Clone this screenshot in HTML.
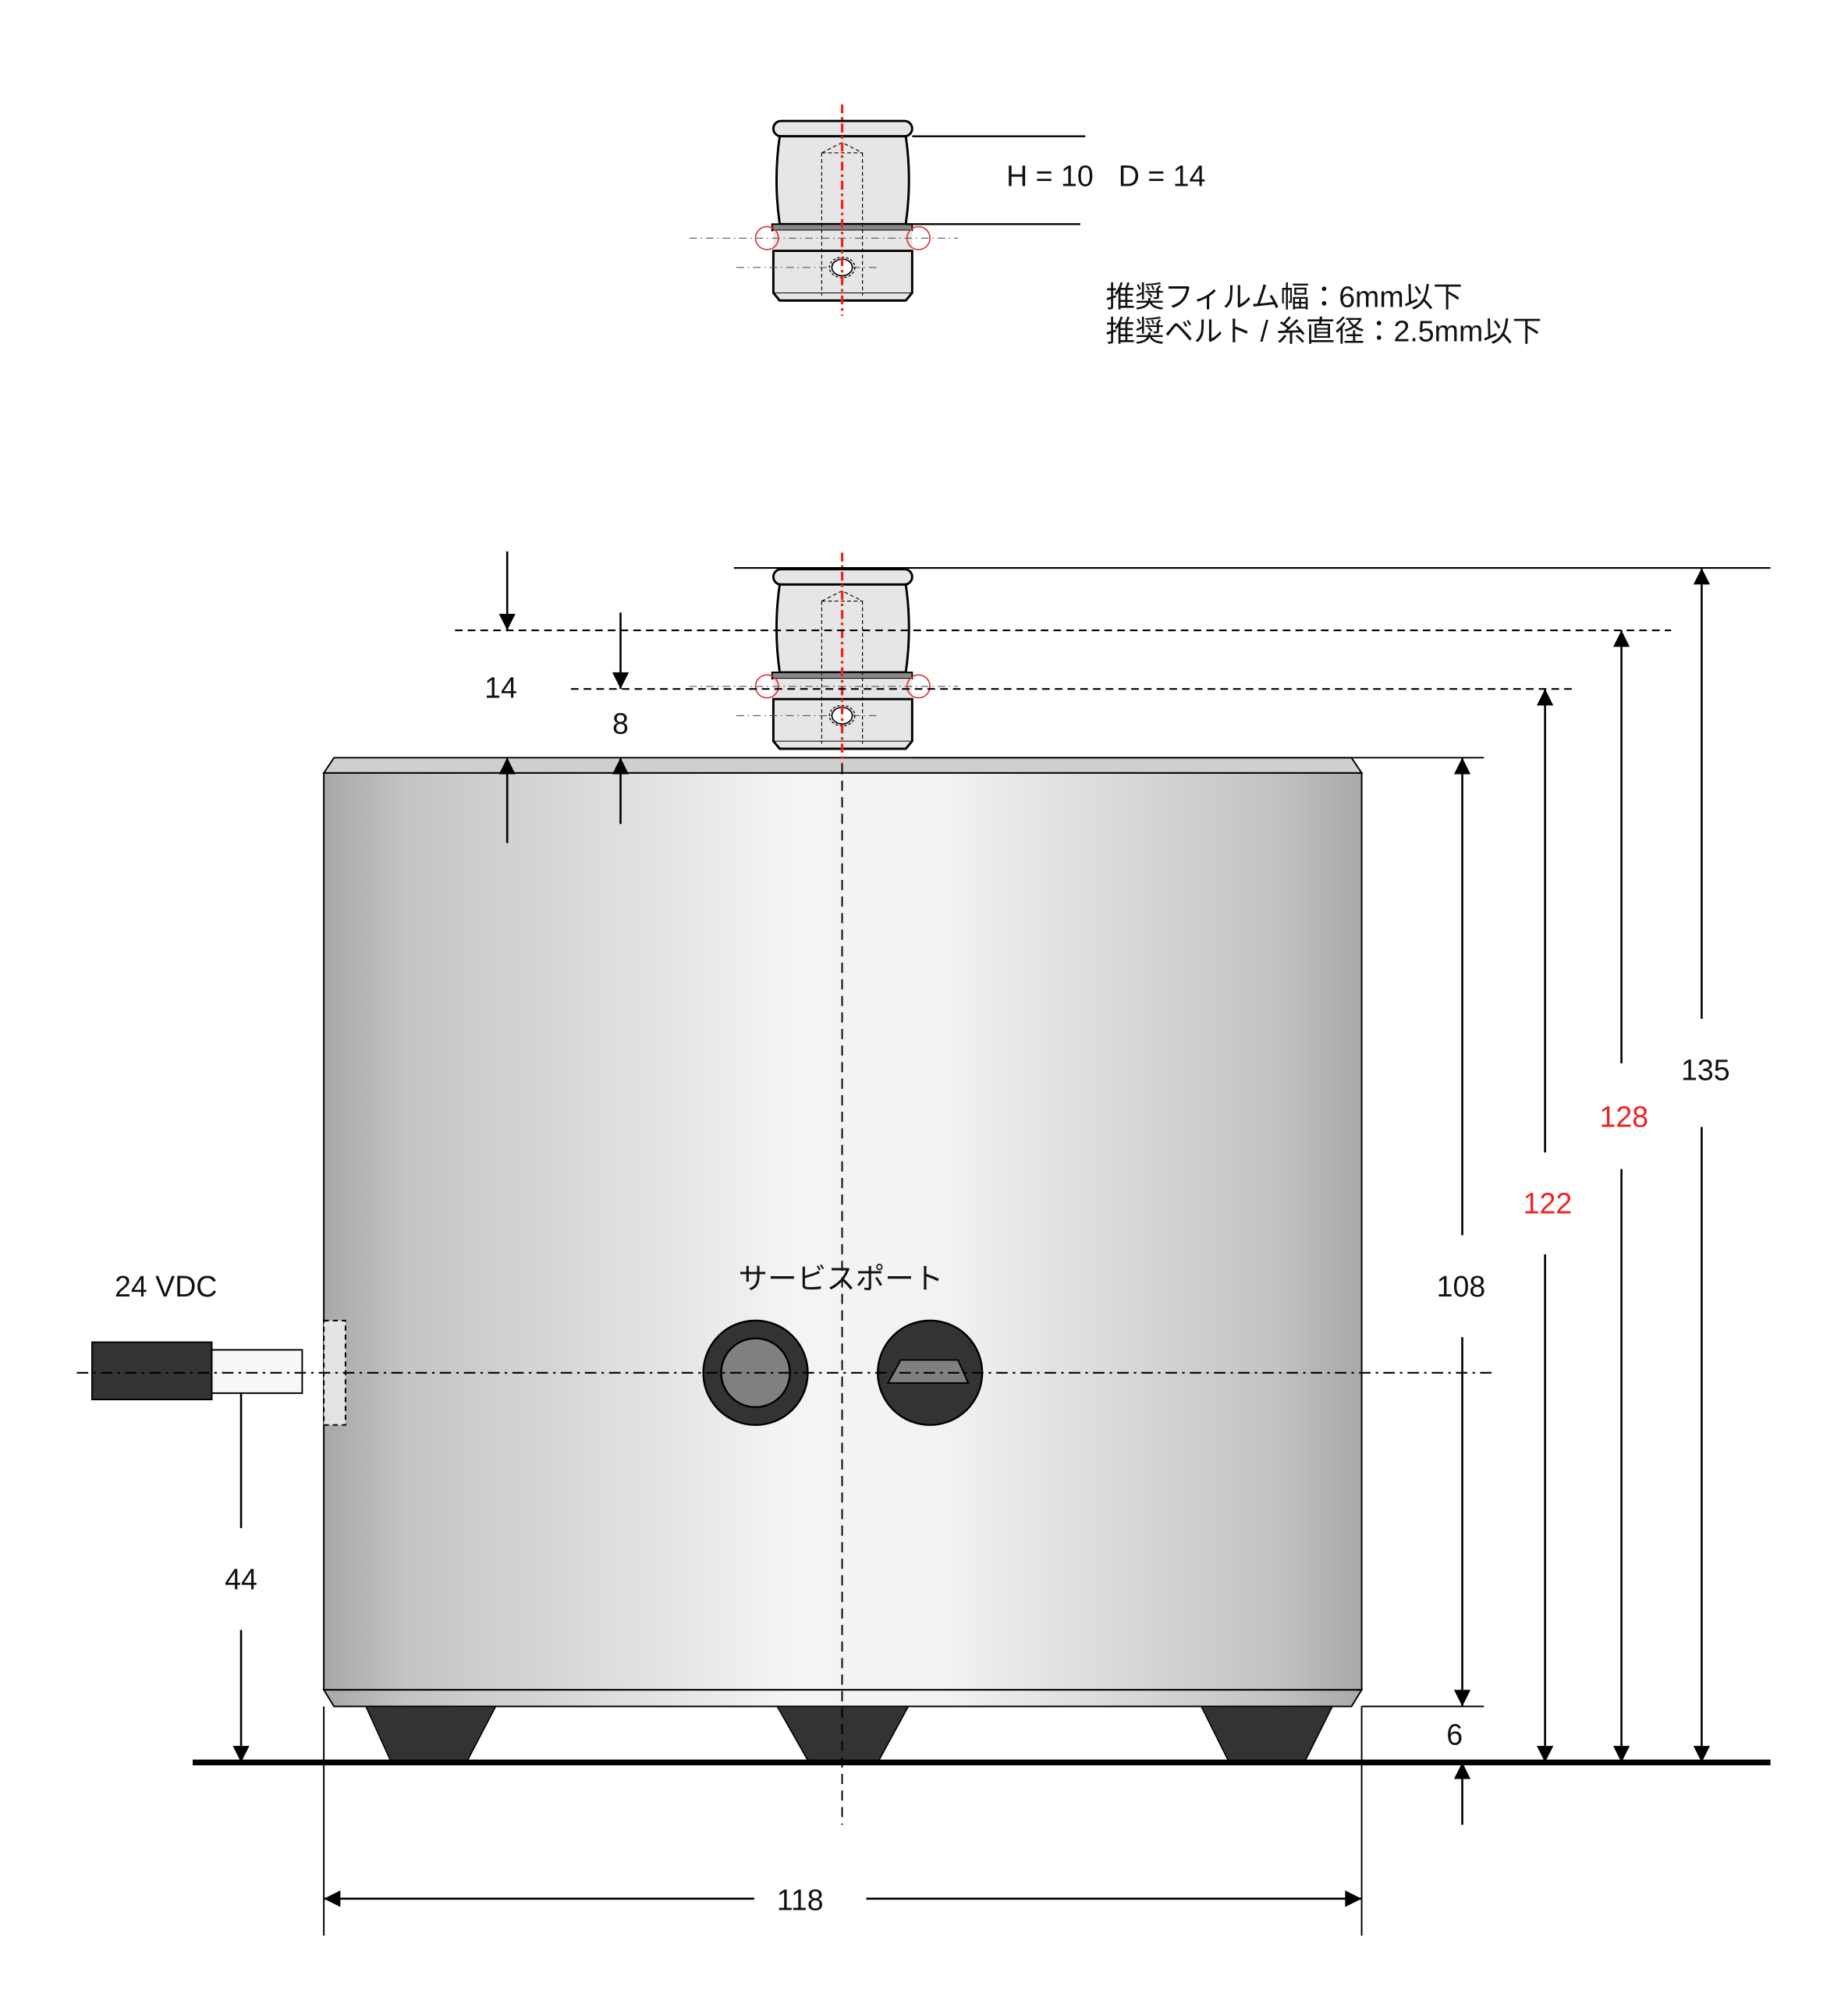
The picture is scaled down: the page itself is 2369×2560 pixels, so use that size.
<!DOCTYPE html>
<html><head><meta charset="utf-8"><style>html,body{margin:0;padding:0;background:#fff}svg{display:block}text{font-family:"Liberation Sans","Noto Sans CJK JP",sans-serif}</style></head>
<body>
<svg width="2369" height="2560" viewBox="0 0 1450.6 1568.2" xmlns="http://www.w3.org/2000/svg">
<defs>
<linearGradient id="g" x1="0" x2="1" y1="0" y2="0">
<stop offset="0" stop-color="#a8a8a8"/><stop offset="0.08" stop-color="#c4c4c4"/><stop offset="0.45" stop-color="#f4f4f4"/><stop offset="0.6" stop-color="#f2f2f2"/><stop offset="0.92" stop-color="#c2c2c2"/><stop offset="1" stop-color="#a8a8a8"/>
</linearGradient>
<marker id="a" viewBox="0 0 10 10" refX="10" refY="5" markerWidth="14" markerHeight="13" orient="auto-start-reverse" markerUnits="userSpaceOnUse"><path d="M0,0L10,5L0,10z" fill="#000"/></marker>
<g id="cap">
<rect x="607" y="95" width="109" height="12" rx="6" fill="#e6e6e6" stroke="#000" stroke-width="1.8"/>
<path d="M612,107 L711,107 Q716,141 711,176 L612,176 Q607,141 612,107Z" fill="#e6e6e6" stroke="#000" stroke-width="1.8"/>
<rect x="606" y="176" width="110" height="5" fill="#888" stroke="#000" stroke-width="1.2"/>
<rect x="607" y="181" width="109" height="16" fill="#e6e6e6"/>
<path d="M607,197 L716,197 L716,230 L711,236 L612,236 L607,230Z" fill="#e6e6e6" stroke="#000" stroke-width="1.8"/>
<line x1="607" y1="230" x2="716" y2="230" stroke="#000" stroke-width="0.6"/>
<path d="M645,120 L645,232 M677,120 L677,232 M645,120 L677,120 M645,120 L661,112 L677,120" fill="none" stroke="#000" stroke-width="0.7" stroke-dasharray="3,2"/>
<line x1="541" y1="187" x2="752" y2="187" stroke="#555" stroke-width="0.7" stroke-dasharray="6,3,1,3"/>
<line x1="578" y1="210" x2="688" y2="210" stroke="#555" stroke-width="0.7" stroke-dasharray="6,3,1,3"/>
<circle cx="602" cy="187" r="9" fill="none" stroke="#d33" stroke-width="1"/>
<circle cx="721" cy="187" r="9" fill="none" stroke="#d33" stroke-width="1"/>
<ellipse cx="661" cy="210" rx="10" ry="8" fill="none" stroke="#000" stroke-width="0.8" stroke-dasharray="2,1.5"/>
<ellipse cx="661" cy="210" rx="8" ry="6.5" fill="#fff" stroke="#000" stroke-width="1"/>
</g>
</defs>
<use href="#cap"/>
<line x1="661" y1="82" x2="661" y2="248" stroke="#e22" stroke-width="2" stroke-dasharray="7,3,2,3"/>
<line x1="716" y1="107" x2="852" y2="107" stroke="#000" stroke-width="1.5"/>
<line x1="711" y1="176" x2="848" y2="176" stroke="#000" stroke-width="1.5"/>
<text x="790" y="146" font-size="23" fill="#111">H = 10</text>
<text x="878" y="146" font-size="23" fill="#111">D = 14</text>
<text x="868" y="241" font-size="23" fill="#111">推奨フィルム幅：6mm以下</text>
<text x="868" y="268" font-size="23" fill="#111">推奨ベルト / 糸直径：2.5mm以下</text>

<path d="M254,607 L262,595 L1061,595 L1069,607Z" fill="#cfcfcf" stroke="#000" stroke-width="1.2"/>
<rect x="254" y="607" width="815" height="720" fill="url(#g)" stroke="#000" stroke-width="1.2"/>
<path d="M254,1327 L1069,1327 L1061,1340 L262,1340Z" fill="url(#g)" stroke="#000" stroke-width="1.2"/>
<path d="M287,1340 L389,1340 L366,1384 L307,1384Z" fill="#333" stroke="#000"/>
<path d="M610,1340 L713,1340 L689,1384 L635,1384Z" fill="#333" stroke="#000"/>
<path d="M943,1340 L1046,1340 L1024,1384 L965,1384Z" fill="#333" stroke="#000"/>
<line x1="151" y1="1384" x2="1390" y2="1384" stroke="#000" stroke-width="4.5"/>

<use href="#cap" transform="translate(0,352)"/>
<line x1="661" y1="434" x2="661" y2="600" stroke="#e22" stroke-width="2" stroke-dasharray="7,3,2,3"/>
<line x1="661" y1="600" x2="661" y2="1433" stroke="#000" stroke-width="1.2" stroke-dasharray="8,5"/>

<line x1="576" y1="446" x2="1390" y2="446" stroke="#000" stroke-width="1.3"/>
<line x1="357" y1="495" x2="1312" y2="495" stroke="#000" stroke-width="1.3" stroke-dasharray="6,4"/>
<line x1="448" y1="541" x2="1236" y2="541" stroke="#000" stroke-width="1.3" stroke-dasharray="6,4"/>
<line x1="716" y1="595" x2="1165" y2="595" stroke="#000" stroke-width="1.2"/>
<line x1="1069" y1="1340" x2="1165" y2="1340" stroke="#000" stroke-width="1.2"/>
<line x1="254" y1="1340" x2="254" y2="1520" stroke="#000" stroke-width="1.2"/>
<line x1="1069" y1="1340" x2="1069" y2="1520" stroke="#000" stroke-width="1.2"/>

<g stroke="#000" stroke-width="1.6" fill="none">
<line x1="398" y1="433" x2="398" y2="495" marker-end="url(#a)"/>
<line x1="398" y1="662" x2="398" y2="595" marker-end="url(#a)"/>
<line x1="487" y1="481" x2="487" y2="541" marker-end="url(#a)"/>
<line x1="487" y1="647" x2="487" y2="595" marker-end="url(#a)"/>
<line x1="1148" y1="970" x2="1148" y2="595" marker-end="url(#a)"/>
<line x1="1148" y1="1050" x2="1148" y2="1340" marker-end="url(#a)"/>
<line x1="1148" y1="1433" x2="1148" y2="1384" marker-end="url(#a)"/>
<line x1="1213" y1="905" x2="1213" y2="541" marker-end="url(#a)"/>
<line x1="1213" y1="985" x2="1213" y2="1384" marker-end="url(#a)"/>
<line x1="1273" y1="835" x2="1273" y2="495" marker-end="url(#a)"/>
<line x1="1273" y1="918" x2="1273" y2="1384" marker-end="url(#a)"/>
<line x1="1336" y1="800" x2="1336" y2="446" marker-end="url(#a)"/>
<line x1="1336" y1="885" x2="1336" y2="1384" marker-end="url(#a)"/>
<line x1="592" y1="1491" x2="254" y2="1491" marker-end="url(#a)"/>
<line x1="680" y1="1491" x2="1069" y2="1491" marker-end="url(#a)"/>
<line x1="189" y1="1200" x2="189" y2="1078" marker-end="url(#a)"/>
<line x1="189" y1="1280" x2="189" y2="1384" marker-end="url(#a)"/>
</g>

<rect x="72" y="1054" width="94" height="45" fill="#333" stroke="#000" stroke-width="1.2"/>
<rect x="166" y="1060" width="71" height="34" fill="#f7f7f7" stroke="#000" stroke-width="1.2"/>
<rect x="254" y="1037" width="17" height="82" fill="#e4e4e4" stroke="#000" stroke-width="1.2" stroke-dasharray="4,3"/>
<circle cx="593" cy="1078" r="41" fill="#333" stroke="#000" stroke-width="1.5"/>
<circle cx="593" cy="1078" r="27" fill="#808080" stroke="#000" stroke-width="1.5"/>
<circle cx="730" cy="1078" r="41" fill="#333" stroke="#000" stroke-width="1.5"/>
<path d="M707,1068 L752,1068 L760,1086 L697,1086Z" fill="#808080" stroke="#000" stroke-width="1.2"/>
<line x1="60" y1="1078" x2="1175" y2="1078" stroke="#000" stroke-width="1.3" stroke-dasharray="9,4,2,4"/>

<g font-size="23" fill="#111" text-anchor="middle">
<text x="130" y="1018">24 VDC</text>
<text x="660" y="1012">サービスポート</text>
<text x="393" y="548">14</text>
<text x="487" y="576">8</text>
<text x="1147" y="1018">108</text>
<text x="1215" y="953" fill="#e22">122</text>
<text x="1275" y="885" fill="#e22">128</text>
<text x="1339" y="848">135</text>
<text x="1142" y="1370">6</text>
<text x="189" y="1248">44</text>
<text x="628" y="1500">118</text>
</g>
</svg>
</body></html>
